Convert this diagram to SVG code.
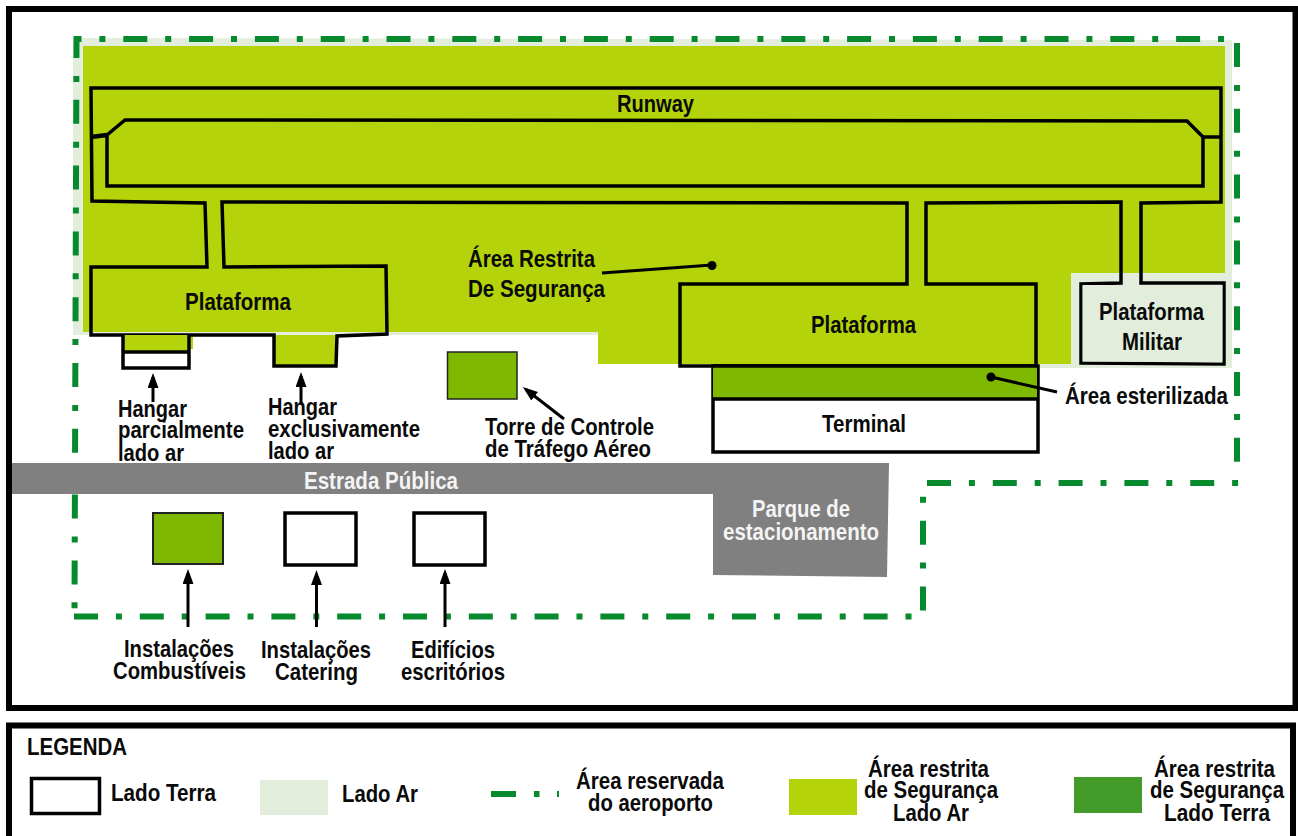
<svg xmlns="http://www.w3.org/2000/svg" width="1298" height="836" viewBox="0 0 1298 836">
<style>
text{font-family:"Liberation Sans",Arial,sans-serif;font-weight:bold;font-size:24px;fill:#0a0a0a}
text.w{fill:#f4f4f4}
text.m{text-anchor:middle}
.frame{fill:none;stroke:#000;stroke-width:6}
.o{fill:none;stroke:#000;stroke-width:3.5;stroke-linejoin:miter}
.d{fill:none;stroke:#078a2d;stroke-width:6;stroke-dasharray:24 17.9 6 17.9}
.a{fill:none;stroke:#000;stroke-width:3}
.l{fill:#e2eedb}.b{fill:#b5d30a}.g{fill:#7fb800}.r{fill:#808080}
</style>
<defs>
<marker id="ah" markerUnits="userSpaceOnUse" markerWidth="15" markerHeight="11" refX="11" refY="5.5" orient="auto" viewBox="0 0 15 11"><path d="M0 0L15 5.5L0 11z" fill="#000"/></marker>
</defs>
<rect width="1298" height="836" fill="#fff"/>
<g id="areas">
<path class="l" d="M73 38L1232 40V368H1040V335H73z"/>
<path class="b" d="M83 46H1225V273H1071V364H598V332H83z"/>
<path class="b" d="M125 335H193V349H125z"/>
<path class="b" d="M275 335H337V365H275z"/>
</g>
<rect class="frame" x="9" y="9" width="1286.500" height="699"/>
<g id="reserve-boundary">
<path class="d" style="stroke-dasharray:6 17.9 24 17.9" d="M1224 39H76.500L74.500 611"/>
<path class="d" d="M74 616.500H913"/>
<path class="d" d="M923 610.500V495"/>
<path class="d" d="M927 483H1240"/>
<path class="d" d="M1237 43V463"/>
</g>
<g id="road-parking"><path class="r" d="M12 463H889L887 577L713 575V494H12z"/></g>
<g id="runway">
<path class="o" d="M91 88H1221V202L1141 203V283H1224V364L1081 363V284L1121 283V202L926 203V284L1036 284V366H680V284L907 284V203L222 202L224 267L386 266L387 334L337 336L336 366H274V335H91V267H207L205 203L92 201z"/>
<path class="o" d="M107 186V135L125 120L1187 121L1203 137V186z"/>
<path class="o" d="M1203 137H1221"/>
<path d="M91 137L107 135" fill="none" stroke="#000" stroke-width="4.500"/>
<text x="617" y="112" textLength="77" lengthAdjust="spacingAndGlyphs">Runway</text>
</g>
<g id="military-apron">
<path class="l" d="M1082.500 285H1222.500V362.500L1082.500 361.500z"/>
<text x="1099" y="320" textLength="105" lengthAdjust="spacingAndGlyphs">Plataforma</text>
<text x="1122" y="350" textLength="60" lengthAdjust="spacingAndGlyphs">Militar</text>
</g>
<g id="apron-left"><text x="185" y="310" textLength="106" lengthAdjust="spacingAndGlyphs">Plataforma</text></g>
<g id="apron-right"><text x="811" y="333" textLength="105" lengthAdjust="spacingAndGlyphs">Plataforma</text></g>
<g id="hangar-partial">
<rect x="123" y="335" width="66" height="33" fill="#fff"/>
<rect class="b" x="124" y="335" width="64" height="17"/>
<path class="o" d="M123 335V368H189V335M123 352H189"/>
</g>
<g id="tower"><rect class="g" x="447.500" y="352" width="69.500" height="47" stroke="#222" stroke-width="1.500"/></g>
<g id="terminal">
<rect x="713" y="366" width="325" height="86" fill="#fff" stroke="#000" stroke-width="3.500"/>
<rect class="g" x="713" y="367" width="324" height="32"/>
<path class="o" d="M712 399H1038M713 366H1038"/>
<text x="822" y="432" textLength="84" lengthAdjust="spacingAndGlyphs">Terminal</text>
</g>
<g id="fuel"><rect class="g" x="153" y="513" width="70" height="51" stroke="#222" stroke-width="2"/></g>
<g id="catering"><rect x="285" y="513" width="71" height="52" fill="#fff" stroke="#000" stroke-width="3.500"/></g>
<g id="offices"><rect x="414" y="513" width="71" height="52" fill="#fff" stroke="#000" stroke-width="3.500"/></g>
<g id="connectors">
<path class="a" marker-end="url(#ah)" d="M153 402V377"/>
<path class="a" marker-end="url(#ah)" d="M301 405V376"/>
<path class="a" marker-end="url(#ah)" d="M564 419L526 389.500"/>
<path class="a" marker-end="url(#ah)" d="M188 627V573"/>
<path class="a" marker-end="url(#ah)" d="M316.500 627V574"/>
<path class="a" marker-end="url(#ah)" d="M445 627V573"/>
<path class="a" d="M602 273L712 265"/>
<circle cx="712" cy="265.500" r="4.500"/>
<path class="a" d="M991 377L1057 392"/>
<circle cx="991" cy="377" r="4.500"/>
</g>
<g id="labels">
<text x="468" y="267" textLength="127" lengthAdjust="spacingAndGlyphs">Área Restrita</text>
<text x="468" y="297" textLength="137" lengthAdjust="spacingAndGlyphs">De Segurança</text>
<text x="1065" y="404" textLength="163" lengthAdjust="spacingAndGlyphs">Área esterilizada</text>
<text x="485" y="435" textLength="169" lengthAdjust="spacingAndGlyphs">Torre de Controle</text>
<text x="485" y="457" textLength="166" lengthAdjust="spacingAndGlyphs">de Tráfego Aéreo</text>
<text x="118" y="417" textLength="69" lengthAdjust="spacingAndGlyphs">Hangar</text>
<text x="118" y="438" textLength="126" lengthAdjust="spacingAndGlyphs">parcialmente</text>
<text x="118" y="461" textLength="66" lengthAdjust="spacingAndGlyphs">lado ar</text>
<text x="268" y="415" textLength="69" lengthAdjust="spacingAndGlyphs">Hangar</text>
<text x="268" y="437" textLength="152" lengthAdjust="spacingAndGlyphs">exclusivamente</text>
<text x="268" y="459" textLength="66" lengthAdjust="spacingAndGlyphs">lado ar</text>
<text class="w" x="304" y="489" textLength="154" lengthAdjust="spacingAndGlyphs">Estrada Pública</text>
<text class="w m" x="801" y="517" textLength="98" lengthAdjust="spacingAndGlyphs">Parque de</text>
<text class="w m" x="801" y="540" textLength="156" lengthAdjust="spacingAndGlyphs">estacionamento</text>
<text class="m" x="179" y="657" textLength="110" lengthAdjust="spacingAndGlyphs">Instalações</text>
<text class="m" x="179.500" y="679" textLength="133" lengthAdjust="spacingAndGlyphs">Combustíveis</text>
<text class="m" x="316" y="658" textLength="110" lengthAdjust="spacingAndGlyphs">Instalações</text>
<text class="m" x="316.500" y="680" textLength="83" lengthAdjust="spacingAndGlyphs">Catering</text>
<text class="m" x="453" y="658" textLength="84" lengthAdjust="spacingAndGlyphs">Edifícios</text>
<text class="m" x="453" y="680" textLength="104" lengthAdjust="spacingAndGlyphs">escritórios</text>
</g>
<g id="legend">
<rect class="frame" x="9" y="725.500" width="1284" height="120"/>
<text x="27" y="755" textLength="100" lengthAdjust="spacingAndGlyphs">LEGENDA</text>
<rect x="31.500" y="778.500" width="68" height="35" fill="#fff" stroke="#000" stroke-width="3.500"/>
<text x="111" y="801" textLength="105" lengthAdjust="spacingAndGlyphs">Lado Terra</text>
<rect class="l" x="260" y="780" width="68" height="35"/>
<text x="342" y="802" textLength="76" lengthAdjust="spacingAndGlyphs">Lado Ar</text>
<path d="M491 794H516M534 794H539.500M557 794H559" fill="none" stroke="#078a2d" stroke-width="6"/>
<text class="m" x="650" y="789" textLength="148" lengthAdjust="spacingAndGlyphs">Área reservada</text>
<text class="m" x="650.500" y="811" textLength="125" lengthAdjust="spacingAndGlyphs">do aeroporto</text>
<rect class="b" x="789" y="779" width="68" height="36"/>
<text class="m" x="928.500" y="777" textLength="121" lengthAdjust="spacingAndGlyphs">Área restrita</text>
<text class="m" x="931" y="798" textLength="134" lengthAdjust="spacingAndGlyphs">de Segurança</text>
<text class="m" x="931" y="821" textLength="76" lengthAdjust="spacingAndGlyphs">Lado Ar</text>
<rect x="1074" y="777" width="68" height="36" fill="#439c2a"/>
<text class="m" x="1214.500" y="777" textLength="121" lengthAdjust="spacingAndGlyphs">Área restrita</text>
<text class="m" x="1217" y="798" textLength="134" lengthAdjust="spacingAndGlyphs">de Segurança</text>
<text class="m" x="1217" y="821" textLength="106" lengthAdjust="spacingAndGlyphs">Lado Terra</text>
</g>
</svg>
